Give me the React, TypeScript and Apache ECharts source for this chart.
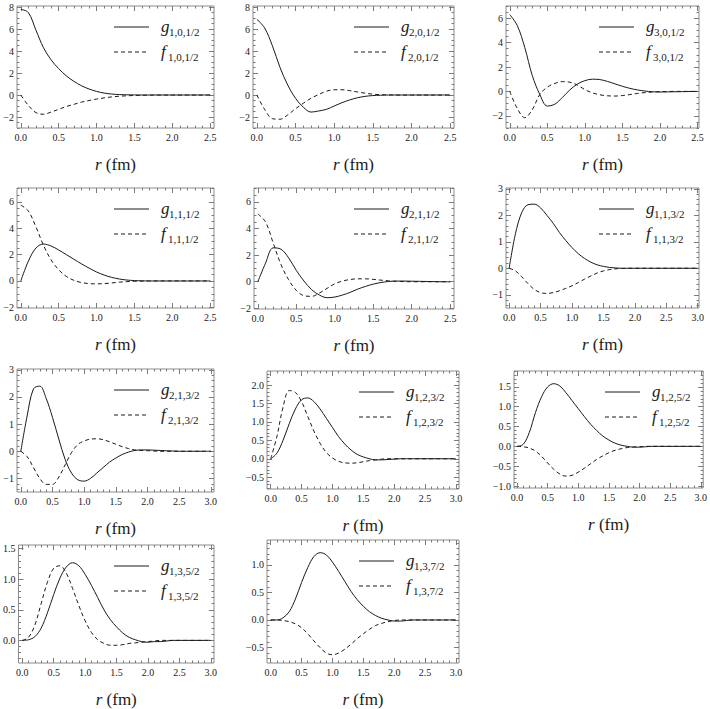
import React, { useEffect, useRef } from "react";
import * as echarts from "echarts";

// radial grids (fm)
const R25 = [0.0, 0.1, 0.2, 0.3, 0.4, 0.5, 0.6, 0.7, 0.8, 0.9, 1.0, 1.1, 1.2, 1.3, 1.4, 1.5, 1.6, 1.7, 1.8, 1.9, 2.0, 2.1, 2.2, 2.3, 2.4, 2.5];
const R30 = [0.0, 0.1, 0.2, 0.3, 0.4, 0.5, 0.6, 0.7, 0.8, 0.9, 1.0, 1.1, 1.2, 1.3, 1.4, 1.5, 1.6, 1.7, 1.8, 1.9, 2.0, 2.1, 2.2, 2.3, 2.4, 2.5, 2.6, 2.7, 2.8, 2.9, 3.0];

// g_{1,0,1/2}, f_{1,0,1/2}
const g101 = [7.8, 7.5, 5.9, 4.3, 3.2, 2.4, 1.75, 1.25, 0.85, 0.55, 0.33, 0.18, 0.09, 0.04, 0.02, 0.01, 0, 0, 0, 0, 0, 0, 0, 0, 0, 0];
const f101 = [0, -0.95, -1.6, -1.75, -1.55, -1.3, -1.05, -0.85, -0.65, -0.5, -0.37, -0.26, -0.17, -0.11, -0.07, -0.04, -0.02, -0.01, 0, 0, 0, 0, 0, 0, 0, 0];
// g_{2,0,1/2}, f_{2,0,1/2}
const g201 = [6.9, 6.1, 4.5, 2.5, 0.9, -0.3, -1.1, -1.55, -1.45, -1.3, -1.0, -0.7, -0.45, -0.25, -0.12, -0.05, -0.02, 0, 0, 0, 0, 0, 0, 0, 0, 0];
const f201 = [0, -1.3, -2.15, -2.2, -1.8, -1.25, -0.75, -0.3, 0.05, 0.35, 0.48, 0.48, 0.4, 0.28, 0.17, 0.08, 0.03, 0.01, 0, 0, 0, 0, 0, 0, 0, 0];
// g_{3,0,1/2}, f_{3,0,1/2}
const g301 = [6.3, 5.4, 3.6, 1.3, -0.25, -1.2, -1.05, -0.5, 0.12, 0.6, 0.88, 1.0, 0.97, 0.82, 0.62, 0.42, 0.25, 0.12, 0.03, -0.03, -0.05, -0.04, -0.03, -0.02, -0.01, 0];
const f301 = [0, -1.4, -2.15, -1.5, -0.25, 0.35, 0.65, 0.8, 0.75, 0.52, 0.15, -0.12, -0.28, -0.36, -0.38, -0.34, -0.26, -0.17, -0.1, -0.05, -0.02, -0.01, 0, 0, 0, 0];
// g_{1,1,1/2}, f_{1,1,1/2}
const g111 = [0, 1.5, 2.5, 2.8, 2.65, 2.35, 2.0, 1.65, 1.3, 0.98, 0.68, 0.45, 0.27, 0.15, 0.07, 0.03, 0.01, 0, 0, 0, 0, 0, 0, 0, 0, 0];
const f111 = [5.75, 5.3, 4.1, 2.7, 1.6, 0.85, 0.35, 0.05, -0.12, -0.2, -0.22, -0.2, -0.15, -0.09, -0.05, -0.02, -0.01, 0, 0, 0, 0, 0, 0, 0, 0, 0];
// g_{2,1,1/2}, f_{2,1,1/2}
const g211 = [0, 1.4, 2.55, 2.45, 1.8, 0.85, 0.05, -0.6, -1.0, -1.2, -1.15, -1.0, -0.8, -0.55, -0.35, -0.18, -0.06, 0.02, 0.05, 0.05, 0.04, 0.03, 0.02, 0.01, 0, 0];
const f211 = [5.1, 4.5, 2.9, 1.3, 0.15, -0.65, -1.05, -1.1, -0.85, -0.5, -0.15, 0.05, 0.17, 0.22, 0.22, 0.18, 0.12, 0.07, 0.03, 0.01, 0, 0, 0, 0, 0, 0];
// g_{1,1,3/2}, f_{1,1,3/2}
const g113 = [0, 1.3, 2.1, 2.4, 2.42, 2.28, 2.0, 1.7, 1.35, 1.05, 0.78, 0.55, 0.37, 0.23, 0.13, 0.07, 0.03, 0.01, 0, 0, 0, 0, 0, 0, 0, 0, 0, 0, 0, 0, 0];
const f113 = [0, -0.1, -0.32, -0.58, -0.8, -0.92, -0.95, -0.92, -0.85, -0.76, -0.66, -0.54, -0.41, -0.29, -0.18, -0.1, -0.05, -0.02, -0.01, 0, 0, 0, 0, 0, 0, 0, 0, 0, 0, 0, 0];
// g_{2,1,3/2}, f_{2,1,3/2}
const g213 = [0, 1.3, 2.3, 2.4, 1.95, 1.25, 0.45, -0.3, -0.8, -1.05, -1.1, -1.0, -0.8, -0.6, -0.4, -0.25, -0.12, -0.03, 0.03, 0.05, 0.05, 0.04, 0.03, 0.02, 0.01, 0, 0, 0, 0, 0, 0];
const f213 = [0, -0.2, -0.6, -1.0, -1.22, -1.22, -0.95, -0.5, -0.05, 0.25, 0.38, 0.45, 0.46, 0.43, 0.35, 0.26, 0.17, 0.1, 0.05, 0.03, 0.02, 0.01, 0, 0, 0, 0, 0, 0, 0, 0, 0];
// g_{1,2,3/2}, f_{1,2,3/2}
const g123 = [0, 0.15, 0.5, 0.95, 1.35, 1.6, 1.65, 1.55, 1.35, 1.1, 0.85, 0.6, 0.4, 0.24, 0.12, 0.05, 0.0, -0.03, -0.03, -0.02, -0.01, 0, 0, 0, 0, 0, 0, 0, 0, 0, 0];
const f123 = [0, 0.6, 1.4, 1.85, 1.8, 1.55, 1.15, 0.75, 0.42, 0.17, 0.02, -0.07, -0.11, -0.12, -0.11, -0.08, -0.05, -0.03, -0.01, 0, 0, 0, 0, 0, 0, 0, 0, 0, 0, 0, 0];
// g_{1,2,5/2}, f_{1,2,5/2}
const g125 = [0, 0.05, 0.35, 0.85, 1.25, 1.5, 1.58, 1.52, 1.35, 1.15, 0.95, 0.75, 0.56, 0.4, 0.26, 0.16, 0.08, 0.03, 0.0, -0.02, -0.02, -0.01, 0, 0, 0, 0, 0, 0, 0, 0, 0];
const f125 = [0, -0.01, -0.04, -0.12, -0.25, -0.42, -0.58, -0.7, -0.75, -0.73, -0.65, -0.55, -0.44, -0.33, -0.24, -0.16, -0.1, -0.06, -0.03, -0.015, -0.01, 0, 0, 0, 0, 0, 0, 0, 0, 0, 0];
// g_{1,3,5/2}, f_{1,3,5/2}
const g135 = [0, 0.01, 0.06, 0.2, 0.45, 0.75, 1.02, 1.2, 1.27, 1.22, 1.08, 0.9, 0.7, 0.5, 0.34, 0.22, 0.12, 0.05, 0.01, -0.02, -0.03, -0.02, -0.02, -0.01, 0, 0, 0, 0, 0, 0, 0];
const f135 = [0, 0.05, 0.25, 0.6, 0.95, 1.18, 1.22, 1.1, 0.85, 0.57, 0.32, 0.13, 0.01, -0.05, -0.08, -0.08, -0.07, -0.05, -0.04, -0.03, -0.02, -0.01, 0, 0, 0, 0, 0, 0, 0, 0, 0];
// g_{1,3,7/2}, f_{1,3,7/2}
const g137 = [0, 0, 0.04, 0.15, 0.38, 0.68, 0.95, 1.15, 1.22, 1.18, 1.05, 0.88, 0.7, 0.52, 0.37, 0.25, 0.15, 0.08, 0.03, 0.0, -0.02, -0.02, -0.01, 0, 0, 0, 0, 0, 0, 0, 0];
const f137 = [0, 0, -0.01, -0.03, -0.07, -0.14, -0.25, -0.38, -0.5, -0.6, -0.63, -0.6, -0.53, -0.44, -0.34, -0.25, -0.17, -0.1, -0.06, -0.03, -0.01, 0, 0, 0, 0, 0, 0, 0, 0, 0, 0];

// subscripts
const subs = ["1,0,1/2", "2,0,1/2", "3,0,1/2", "1,1,1/2", "2,1,1/2", "1,1,3/2", "2,1,3/2", "1,2,3/2", "1,2,5/2", "1,3,5/2", "1,3,7/2"];
const radii = [R25, R25, R25, R25, R25, R30, R30, R30, R30, R30, R30];
const gSeries = [g101, g201, g301, g111, g211, g113, g213, g123, g125, g135, g137];
const fSeries = [f101, f201, f301, f111, f211, f113, f213, f123, f125, f135, f137];

// tick labels
const xTicks25 = [0, 0.5, 1.0, 1.5, 2.0, 2.5];
const xTicks30 = [0, 0.5, 1.0, 1.5, 2.0, 2.5, 3.0];
const yTicksA = [-2, 0, 2, 4, 6, 8];
const yTicksB = [-2, 0, 2, 4, 6];
const yTicksC = [-1, 0, 1, 2, 3];
const yTicksD = [-0.5, 0.0, 0.5, 1.0, 1.5, 2.0];
const yTicksE = [-1.0, -0.5, 0.0, 0.5, 1.0, 1.5];
const yTicksF = [0.0, 0.5, 1.0, 1.5];
const yTicksG = [-0.5, 0.0, 0.5, 1.0];

// layout (frame boxes in px) and axis ranges
const LAYOUT = [
  { l: 17, t: 6, w: 197, h: 122, x0: -0.05, x1: 2.55, y0: -3, y1: 8.1, xt: xTicks25, yt: yTicksA, yDec: false, xm: 0.1, ym: 0.5 },
  { l: 253, t: 6, w: 201, h: 122, x0: -0.05, x1: 2.55, y0: -3, y1: 8.1, xt: xTicks25, yt: yTicksA, yDec: false, xm: 0.1, ym: 0.5 },
  { l: 506, t: 6, w: 193, h: 122, x0: -0.05, x1: 2.52, y0: -3, y1: 7, xt: xTicks25, yt: yTicksB, yDec: false, xm: 0.1, ym: 0.5 },
  { l: 17, t: 188, w: 197, h: 120, x0: -0.05, x1: 2.55, y0: -2.05, y1: 7.05, xt: xTicks25, yt: yTicksB, yDec: false, xm: 0.1, ym: 0.5 },
  { l: 254, t: 188, w: 200, h: 121, x0: -0.05, x1: 2.55, y0: -2.05, y1: 7.05, xt: xTicks25, yt: yTicksB, yDec: false, xm: 0.1, ym: 0.5 },
  { l: 506, t: 188, w: 193, h: 120, x0: -0.05, x1: 3.02, y0: -1.5, y1: 3.03, xt: xTicks30, yt: yTicksC, yDec: false, xm: 0.1, ym: 0.2 },
  { l: 17, t: 369, w: 197, h: 123, x0: -0.06, x1: 3.05, y0: -1.5, y1: 3.03, xt: xTicks30, yt: yTicksC, yDec: false, xm: 0.1, ym: 0.2 },
  { l: 267, t: 371, w: 192, h: 118, x0: -0.06, x1: 3.05, y0: -0.82, y1: 2.38, xt: xTicks30, yt: yTicksD, yDec: true, xm: 0.1, ym: 0.1 },
  { l: 514, t: 371, w: 191, h: 117, x0: -0.05, x1: 3.04, y0: -1.05, y1: 1.9, xt: xTicks30, yt: yTicksE, yDec: true, xm: 0.1, ym: 0.1 },
  { l: 18, t: 545, w: 196, h: 119, x0: -0.06, x1: 3.05, y0: -0.37, y1: 1.56, xt: xTicks30, yt: yTicksF, yDec: true, xm: 0.1, ym: 0.1 },
  { l: 267, t: 540, w: 192, h: 124, x0: -0.06, x1: 3.05, y0: -0.78, y1: 1.45, xt: xTicks30, yt: yTicksG, yDec: true, xm: 0.1, ym: 0.1 },
];

const FONT = "Liberation Serif";
const FRAME = "#8c8c8c";
const TICK = "#7a7a7a";
const INK = "#1a1a1a";

function fmt(v: number, dec: boolean): string {
  const s = dec ? v.toFixed(1) : String(Math.round(v));
  return s.replace("-", "\u2212");
}

function minors(a: number, b: number, step: number): number[] {
  const out: number[] = [];
  const start = Math.ceil(a / step - 1e-9);
  const end = Math.floor(b / step + 1e-9);
  for (let k = start; k <= end; k++) out.push(Math.round(k * step * 1000) / 1000);
  return out;
}

function buildOption() {
  const grid: any[] = [];
  const xAxis: any[] = [];
  const yAxis: any[] = [];
  const series: any[] = [];
  const graphic: any[] = [];

  LAYOUT.forEach((L, i) => {
    grid.push({ left: L.l, top: L.t, width: L.w, height: L.h, show: true, borderColor: FRAME, borderWidth: 1, backgroundColor: "transparent" });
    const xMinor = minors(L.x0, L.x1, L.xm);
    const yMinor = minors(L.y0, L.y1, L.ym);
    const line = { show: false, onZero: false };
    const xBase = { type: "value", gridIndex: i, min: L.x0, max: L.x1, axisLine: line, splitLine: { show: false } };
    const yBase = { type: "value", gridIndex: i, min: L.y0, max: L.y1, axisLine: line, splitLine: { show: false } };
    const major = (vals: number[]) => ({ show: true, inside: true, length: 5, customValues: vals, lineStyle: { color: TICK, width: 1 } });
    const minor = (vals: number[]) => ({ show: true, inside: true, length: 2.5, customValues: vals, lineStyle: { color: TICK, width: 1 } });
    const xMainIndex = xAxis.length;
    xAxis.push({
      ...xBase, position: "bottom",
      axisTick: major(L.xt),
      axisLabel: { show: true, customValues: L.xt, formatter: (v: number) => fmt(v, true), margin: 4, fontFamily: FONT, fontSize: 10, color: INK, showMinLabel: true, showMaxLabel: true },
      name: "{i|r} (fm)", nameLocation: "middle", nameGap: 28,
      nameTextStyle: { fontFamily: FONT, fontSize: 17, color: INK, rich: { i: { fontFamily: FONT, fontSize: 17, fontStyle: "italic", color: INK } } },
    });
    xAxis.push({ ...xBase, position: "bottom", axisTick: minor(xMinor), axisLabel: { show: false } });
    xAxis.push({ ...xBase, position: "top", axisTick: major(L.xt), axisLabel: { show: false } });
    xAxis.push({ ...xBase, position: "top", axisTick: minor(xMinor), axisLabel: { show: false } });
    const yMainIndex = yAxis.length;
    yAxis.push({
      ...yBase, position: "left",
      axisTick: major(L.yt),
      axisLabel: { show: true, customValues: L.yt, formatter: (v: number) => fmt(v, L.yDec), margin: 3, fontFamily: FONT, fontSize: 10, color: INK, showMinLabel: true, showMaxLabel: true },
    });
    yAxis.push({ ...yBase, position: "left", axisTick: minor(yMinor), axisLabel: { show: false } });
    yAxis.push({ ...yBase, position: "right", axisTick: major(L.yt), axisLabel: { show: false } });
    yAxis.push({ ...yBase, position: "right", axisTick: minor(yMinor), axisLabel: { show: false } });

    const r = radii[i];
    series.push({
      type: "line", name: "g" + subs[i], xAxisIndex: xMainIndex, yAxisIndex: yMainIndex,
      data: gSeries[i].map((v, j) => [r[j], v]), showSymbol: false, symbol: "none", smooth: 0.35, clip: true,
      lineStyle: { color: INK, width: 1 },
    });
    series.push({
      type: "line", name: "f" + subs[i], xAxisIndex: xMainIndex, yAxisIndex: yMainIndex,
      data: fSeries[i].map((v, j) => [r[j], v]), showSymbol: false, symbol: "none", smooth: 0.35, clip: true,
      lineStyle: { color: INK, width: 1, type: [4, 3] },
    });

    // legend
    const right = L.l + L.w;
    const yA = L.t + 21;
    const yB = L.t + 46;
    graphic.push({ type: "line", shape: { x1: right - 100, y1: yA, x2: right - 65, y2: yA }, style: { stroke: INK, lineWidth: 1 } });
    graphic.push({ type: "line", shape: { x1: right - 100, y1: yB, x2: right - 65, y2: yB }, style: { stroke: INK, lineWidth: 1, lineDash: [4, 3] } });
    graphic.push({ type: "text", x: right - 53, y: yA - 1, style: { text: "g", font: "italic 17px Liberation Serif", fill: INK, verticalAlign: "middle" } });
    graphic.push({ type: "text", x: right - 45, y: yA + 5, style: { text: subs[i], font: "11px Liberation Serif", fill: INK, verticalAlign: "middle" } });
    graphic.push({ type: "text", x: right - 53, y: yB - 1, style: { text: "f", font: "italic 17px Liberation Serif", fill: INK, verticalAlign: "middle" } });
    graphic.push({ type: "text", x: right - 46, y: yB + 5, style: { text: subs[i], font: "11px Liberation Serif", fill: INK, verticalAlign: "middle" } });
  });

  return { animation: false, backgroundColor: "#ffffff", textStyle: { fontFamily: FONT }, grid, xAxis, yAxis, series, graphic };
}

export default function App() {
  const ref = useRef<HTMLDivElement>(null);
  useEffect(() => {
    if (!ref.current) return;
    const chart = echarts.init(ref.current, undefined, { renderer: "svg" });
    chart.setOption(buildOption() as any);
    return () => chart.dispose();
  }, []);
  return <div ref={ref} style={{ position: "fixed", left: 0, top: 0, width: 710, height: 709, background: "#fff", fontFamily: "Liberation Serif" }} />;
}
